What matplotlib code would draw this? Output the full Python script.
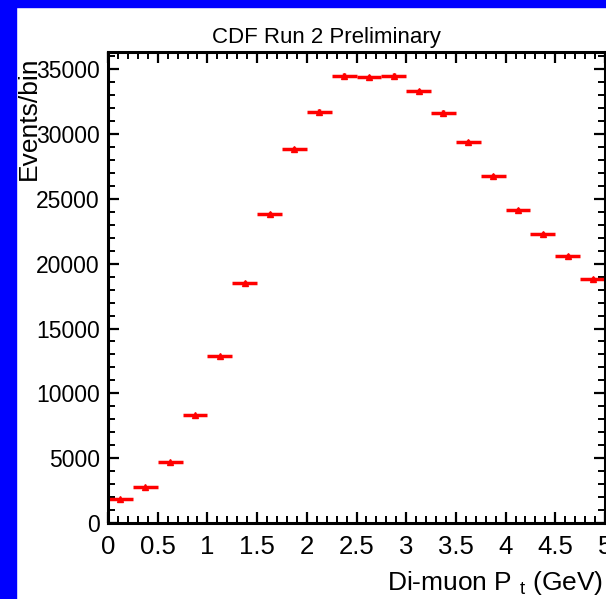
import numpy as np
import matplotlib
matplotlib.use('Agg')
import matplotlib.pyplot as plt
from matplotlib.ticker import MultipleLocator

# Di-muon pt spectrum, 0.25 GeV bins
bin_centers = [0.125, 0.375, 0.625, 0.875, 1.125, 1.375, 1.625, 1.875, 2.125, 2.375,
               2.625, 2.875, 3.125, 3.375, 3.625, 3.875, 4.125, 4.375, 4.625, 4.875]
bin_half_width = [0.125] * 20
events = [1830, 2750, 4680, 8310, 12850, 18500, 23870, 28860, 31740, 34490,
          34390, 34490, 33310, 31660, 29380, 26750, 24130, 22300, 20600, 18830]
events_err = [np.sqrt(v) for v in events]
x_tick_labels = ['0', '0.5', '1', '1.5', '2', '2.5', '3', '3.5', '4', '4.5', '5']

plt.rcParams['font.family'] = ['Liberation Sans', 'DejaVu Sans']
plt.rcParams['mathtext.fontset'] = 'custom'
plt.rcParams['mathtext.rm'] = 'Liberation Sans'
plt.rcParams['mathtext.it'] = 'Liberation Sans'

W, H = 606, 599
fig = plt.figure(figsize=(W / 100, H / 100), dpi=100)
fig.patch.set_facecolor('white')

# blue frame on the left and top
fig.patches.append(plt.Rectangle((0, 0), 16 / W, 1, transform=fig.transFigure,
                                 color='#0000ff', zorder=-1))
fig.patches.append(plt.Rectangle((0, 1 - 7 / H), 1, 7 / H, transform=fig.transFigure,
                                 color='#0000ff', zorder=-1))

left, right, top, bottom = 108, 605, 52, 523
ax = fig.add_axes([left / W, (H - bottom) / H, (right - left) / W, (bottom - top) / H])

ax.errorbar(bin_centers, events, xerr=bin_half_width, yerr=events_err,
            fmt='^', color='red', markersize=5, elinewidth=2.5, capsize=0)

ax.set_xlim(0, 5)
ax.set_ylim(0, 36330)
ax.xaxis.set_minor_locator(MultipleLocator(0.1))
ax.yaxis.set_major_locator(MultipleLocator(5000))
ax.yaxis.set_minor_locator(MultipleLocator(1000))
ax.set_xticks(np.arange(0, 5.01, 0.5))
ax.set_xticklabels(x_tick_labels)
ax.tick_params(which='both', direction='in', top=True, right=True, color='black')
ax.tick_params(which='major', length=8, width=1.6)
ax.tick_params(which='minor', length=5, width=1.4)
ax.tick_params(axis='x', which='major', labelsize=18.5, pad=9)
ax.tick_params(axis='y', which='major', labelsize=16.5, pad=6)
for s in ax.spines.values():
    s.set_linewidth(2.2)

fig.text(326 / W, 1 - 37 / H, 'CDF Run 2 Preliminary', ha='center', va='center',
         fontsize=16)
fig.text(29 / W, 1 - 57 / H, 'Events/bin', rotation=90, ha='center', va='top',
         fontsize=19)
fig.text(603 / W, 1 - 590 / H, r'Di-muon P $_{t}$ (GeV)', ha='right', va='baseline',
         fontsize=19)

fig.savefig('out.png', dpi=100)
